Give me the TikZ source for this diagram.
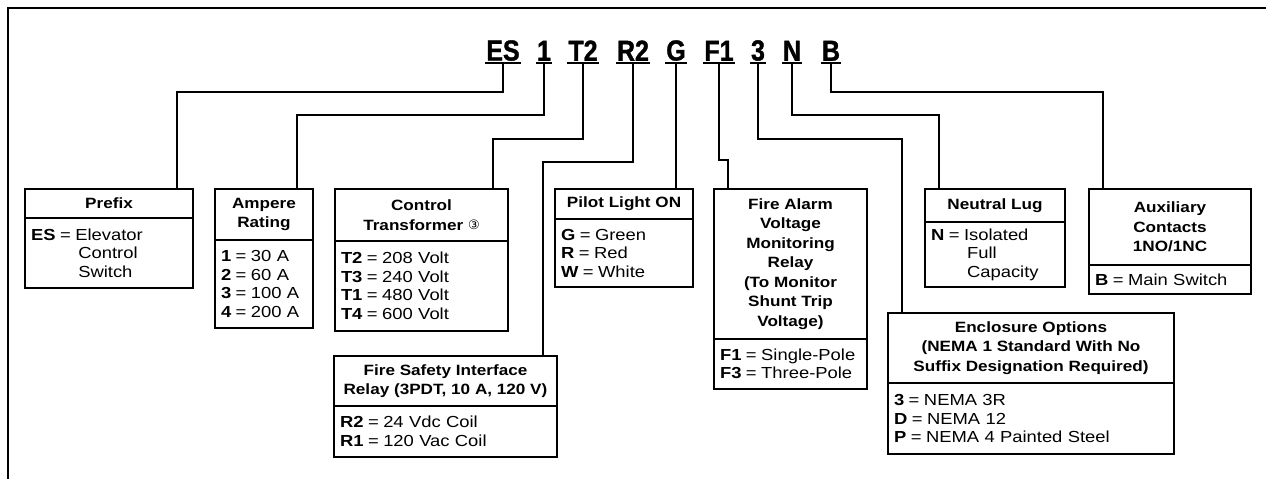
\documentclass[tikz,border=0pt]{standalone}
\usepackage{fontspec}
\setmainfont{Liberation Sans}[FakeStretch=1.15]
\newfontfamily\codefont[FakeStretch=0.86,FakeBold=1.3]{Liberation Sans}
\newfontfamily\symfont{DejaVu Sans}
\tikzset{
  boxline/.style={draw=black, line width=1.8pt, outer sep=0pt},
  hdr/.style={boxline, font=\fontsize{14.9}{19.5}\selectfont\bfseries, align=center, inner sep=0pt},
  bdy/.style={boxline, font=\fontsize{16}{18.5}\selectfont, align=left, inner xsep=6pt, inner ysep=0pt},
  code/.style={font=\codefont\bfseries\fontsize{29}{30}\selectfont, inner xsep=1pt, inner ysep=2pt, anchor=south},
  uline/.style={line width=2pt},
  conn/.style={line width=1.6pt},
  frame/.style={line width=2.4pt},
}
% name, x, y, width, text width, header height, body height, header, body
\newcommand{\specbox}[9]{%
  \node[hdr, minimum width=#4pt, minimum height=#6pt, anchor=north west] (#1H) at (#2,#3) {#8};
  \node[bdy, text width=#5pt, minimum width=#4pt, minimum height=#7pt, anchor=north west] (#1B) at (#1H.south west) {#9};
}
\newcommand{\eq}{\hspace{4.5pt}=\hspace{4.5pt}}
\newcommand{\eqind}[1]{\hphantom{\textbf{#1}\eq}\hspace{3pt}}
\begin{document}
\begin{tikzpicture}[x=1pt, y=-1pt]
\useasboundingbox (0,0) rectangle (1266,479);
% frame
\draw[frame] (8,479) -- (8,8) -- (1266,8);
% code letters
\foreach \n/\t/\x in {ES/ES/503, One/1/544, T/T2/583, R/R2/633, G/G/676, F/F1/719, Th/3/758, N/N/792, B/B/831}{
  \node[code] (c\n) at (\x,63) {\t};
  \draw[uline] (c\n.south west) -- (c\n.south east);
}
% boxes
\specbox{Pre}{25}{189}{168}{156}{29}{70}{Prefix}{\textbf{ES}\eq Elevator\\ \eqind{ES}Control\\ \eqind{ES}Switch}
\specbox{Amp}{215}{189}{98}{86}{51}{88}{Ampere\\Rating}{\textbf{1}\eq 30 A\\ \textbf{2}\eq 60 A\\ \textbf{3}\eq 100 A\\ \textbf{4}\eq 200 A}
\specbox{Ctl}{335}{189}{173}{161}{52}{90}{Control\\Transformer \raisebox{1pt}{\symfont\mdseries\fontsize{13}{13}\selectfont ③}}{\textbf{T2}\eq 208 Volt\\ \textbf{T3}\eq 240 Volt\\ \textbf{T1}\eq 480 Volt\\ \textbf{T4}\eq 600 Volt}
\specbox{Pil}{555}{189}{138}{126}{30}{68}{Pilot Light ON}{\textbf{G}\eq Green\\ \textbf{R}\eq Red\\ \textbf{W}\eq White}
\specbox{Fal}{714}{189}{153}{141}{150}{50}{Fire Alarm\\Voltage\\Monitoring\\Relay\\(To Monitor\\Shunt Trip\\Voltage)}{\textbf{F1}\eq Single-Pole\\ \textbf{F3}\eq Three-Pole}
\specbox{Neu}{925}{189}{140}{128}{33}{65}{Neutral Lug}{\textbf{N}\eq Isolated\\ \eqind{N}Full\\ \eqind{N}Capacity}
\specbox{Aux}{1089}{189}{162}{150}{76}{29}{Auxiliary\\Contacts\\1NO/1NC}{\textbf{B}\eq Main Switch}
\specbox{Fsi}{334}{356}{223}{211}{50}{51}{Fire Safety Interface\\Relay (3PDT, 10 A, 120 V)}{\textbf{R2}\eq 24 Vdc Coil\\ \textbf{R1}\eq 120 Vac Coil}
\specbox{Enc}{888}{313}{286}{274}{70}{71}{Enclosure Options\\(NEMA 1 Standard With No\\Suffix Designation Required)}{\textbf{3}\eq NEMA 3R\\ \textbf{D}\eq NEMA 12\\ \textbf{P}\eq NEMA 4 Painted Steel}
% connectors
\draw[conn] (cES.south) |- (177,92) -- (PreH.north -| 177,0);
\draw[conn] (cOne.south) |- (297,115) -- (AmpH.north -| 297,0);
\draw[conn] (cT.south) |- (493,139) -- (CtlH.north -| 493,0);
\draw[conn] (cR.south) |- (543,162) -- (FsiH.north -| 543,0);
\draw[conn] (cG.south) -- (PilH.north -| cG.south);
\draw[conn] (cF.south) |- (728,160) -- (FalH.north -| 728,0);
\draw[conn] (cTh.south) |- (902,139) -- (EncH.north -| 902,0);
\draw[conn] (cN.south) |- (939,115) -- (NeuH.north -| 939,0);
\draw[conn] (cB.south) |- (1103,92) -- (AuxH.north -| 1103,0);
\end{tikzpicture}
\end{document}
